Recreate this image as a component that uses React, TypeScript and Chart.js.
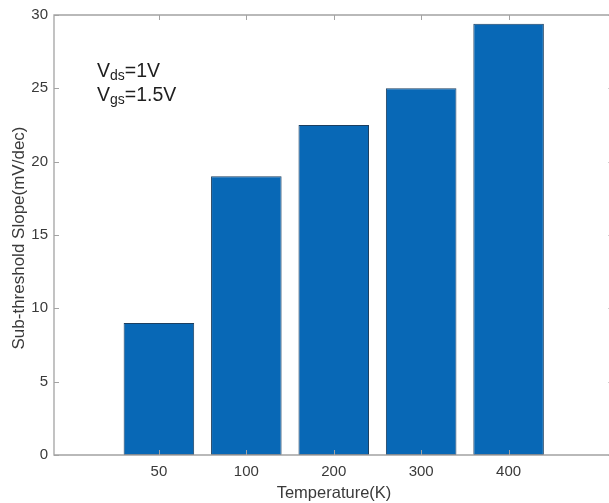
import React, { useEffect, useRef } from 'react';
import { Chart, registerables } from 'chart.js';

Chart.register(...registerables);

// ---- data ----
const categories: string[] = ['50', '100', '200', '300', '400'];
const positions: number[] = [1, 2, 3, 4, 5];
const slopeValues: number[] = [9.0, 19.0, 22.5, 25.0, 29.4];
const yTickValues: number[] = [0, 5, 10, 15, 20, 25, 30];
const xTitle = 'Temperature(K)';
const yTitle = 'Sub-threshold Slope(mV/dec)';
const noteLines: [string, string, string][] = [
  ['V', 'ds', '=1V'],
  ['V', 'gs', '=1.5V'],
];

const FONT = '"Liberation Sans", Arial, sans-serif';
const AXIS_COLOR = '#a3a3a3';
const TEXT_COLOR = '#3a3a3a';

const framePlugin = {
  id: 'matlabFrame',
  afterDraw(chart: any) {
    const { ctx, chartArea } = chart;
    const { left, right, top, bottom } = chartArea;
    const xs = chart.scales.x;
    const ys = chart.scales.y;
    ctx.save();
    // box
    ctx.strokeStyle = AXIS_COLOR;
    ctx.lineWidth = 1.3;
    ctx.beginPath();
    ctx.rect(left, top, right - left, bottom - top);
    ctx.stroke();
    // inward ticks
    const tl = 5;
    ctx.lineWidth = 1;
    ctx.beginPath();
    positions.forEach((p) => {
      const px = Math.round(xs.getPixelForValue(p)) + 0.5;
      ctx.moveTo(px, bottom);
      ctx.lineTo(px, bottom - tl);
      ctx.moveTo(px, top);
      ctx.lineTo(px, top + tl);
    });
    yTickValues.forEach((v) => {
      const py = Math.round(ys.getPixelForValue(v)) + 0.5;
      ctx.moveTo(left, py);
      ctx.lineTo(left + tl, py);
      ctx.moveTo(right, py);
      ctx.lineTo(right - tl, py);
    });
    ctx.stroke();

    // axis titles
    ctx.fillStyle = TEXT_COLOR;
    ctx.textAlign = 'center';
    ctx.textBaseline = 'middle';
    ctx.font = `16.5px ${FONT}`;
    ctx.fillText(xTitle, 334, 493);
    ctx.save();
    ctx.translate(19, 238);
    ctx.rotate(-Math.PI / 2);
    ctx.font = `17px ${FONT}`;
    ctx.fillText(yTitle, 0, 0);
    ctx.restore();

    // annotation
    ctx.fillStyle = '#1e1e1e';
    ctx.textAlign = 'left';
    ctx.textBaseline = 'alphabetic';
    const baseX = 97;
    const baseYs = [77, 101];
    noteLines.forEach(([a, sub, b], i) => {
      let x = baseX;
      const y = baseYs[i];
      ctx.font = `19.5px ${FONT}`;
      ctx.fillText(a, x, y);
      x += ctx.measureText(a).width;
      ctx.font = `14px ${FONT}`;
      ctx.fillText(sub, x, y + 3);
      x += ctx.measureText(sub).width;
      ctx.font = `19.5px ${FONT}`;
      ctx.fillText(b, x, y);
    });
    ctx.restore();
  },
};

export default function App() {
  const ref = useRef<HTMLCanvasElement | null>(null);

  useEffect(() => {
    if (!ref.current) return;
    const chart = new Chart(ref.current, {
      type: 'bar',
      data: {
        datasets: [
          {
            data: positions.map((p, i) => ({ x: p, y: slopeValues[i] })),
            backgroundColor: '#0868B6',
            borderColor: '#1c3f60',
            borderWidth: 1,
            borderSkipped: false,
            barPercentage: 0.807,
            categoryPercentage: 1,
          } as any,
        ],
      },
      options: {
        responsive: false,
        animation: false,
        devicePixelRatio: 1,
        layout: { padding: { left: 0, top: 15, right: 6.5, bottom: 0 } },
        plugins: {
          legend: { display: false },
          tooltip: { enabled: false },
        },
        scales: {
          x: {
            type: 'linear',
            offset: false,
            min: -0.2,
            max: 6.2,
            grid: { display: false, drawTicks: false },
            border: { display: false },
            afterBuildTicks: (scale: any) => {
              scale.ticks = positions.map((v) => ({ value: v }));
            },
            afterFit: (scale: any) => {
              scale.height = 48;
            },
            ticks: {
              autoSkip: false,
              maxRotation: 0,
              padding: 8,
              color: TEXT_COLOR,
              font: { family: FONT, size: 15 },
              callback: (v: any) => {
                const idx = positions.indexOf(Number(v));
                return idx >= 0 ? categories[idx] : '';
              },
            },
          },
          y: {
            min: 0,
            max: 30,
            grid: { display: false, drawTicks: false },
            border: { display: false },
            afterBuildTicks: (scale: any) => {
              scale.ticks = yTickValues.map((v) => ({ value: v }));
            },
            afterFit: (scale: any) => {
              scale.width = 54;
            },
            ticks: {
              padding: 6,
              color: TEXT_COLOR,
              font: { family: FONT, size: 15 },
            },
          },
        },
      },
      plugins: [framePlugin],
    });
    return () => chart.destroy();
  }, []);

  return (
    <div
      style={{
        position: 'fixed',
        left: 0,
        top: 0,
        width: 609,
        height: 503,
        overflow: 'hidden',
        background: '#fff',
      }}
    >
      <canvas ref={ref} width={620} height={503} style={{ width: 620, height: 503, display: 'block' }} />
    </div>
  );
}
